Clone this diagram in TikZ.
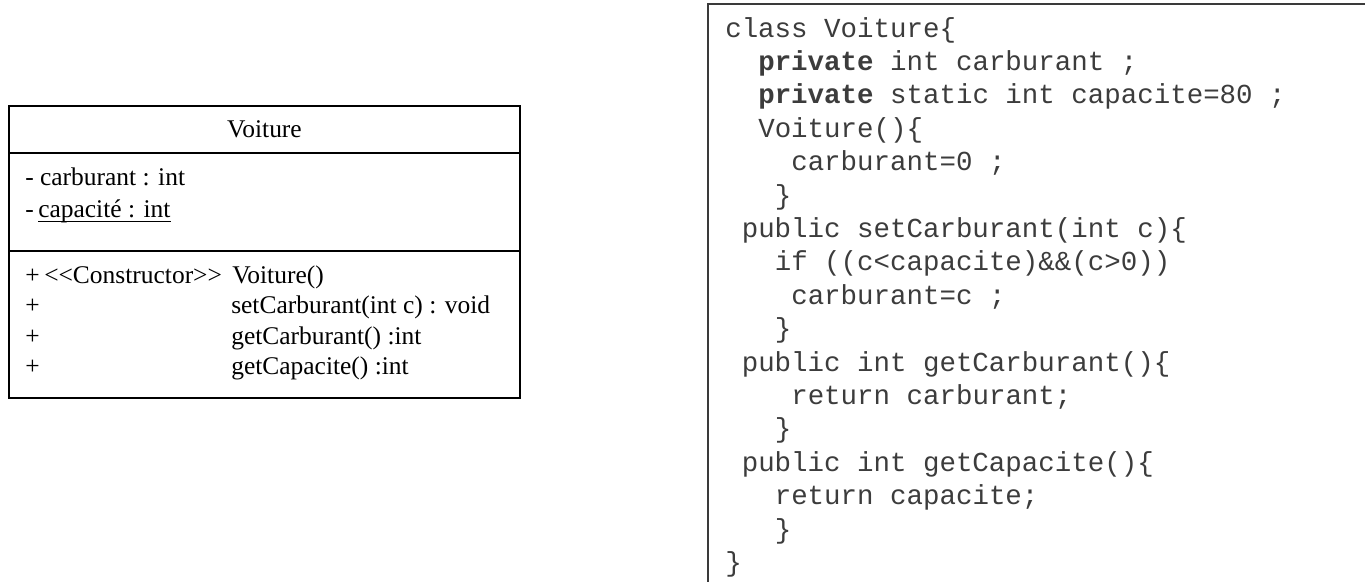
\documentclass[tikz,border=0pt]{standalone}
\usepackage{fontspec}
\setmainfont{Liberation Serif}
\newfontfamily\codefont{Liberation Mono}
\usetikzlibrary{calc}
\definecolor{codegray}{HTML}{3C3C3C}
\definecolor{framegray}{HTML}{3A3A3A}
\begin{document}
\begin{tikzpicture}[x=0.75pt,y=-0.75pt,
  umltext/.style={font=\fontsize{19.1pt}{22pt}\selectfont, inner sep=0pt, anchor=base west, text=black},
  codetext/.style={font=\codefont\fontsize{20.6pt}{24pt}\selectfont, inner sep=0pt, anchor=base west, text=codegray},
  umlline/.style={line width=1.5pt, draw=black},
  codeframe/.style={line width=1.5pt, draw=framegray}]
\useasboundingbox (0,0) rectangle (1365,582);
\fill[white] (0,0) rectangle (1365,582);

% ---------- UML class box ----------
\coordinate (ubtl) at (9,105.5);
\coordinate (ubbr) at (520,398);
\draw[umlline] (ubtl) rectangle (ubbr);
\draw[umlline] (9,153) -- (520,153);
\draw[umlline] (9,250.5) -- (520,250.5);

\node[umltext, anchor=base] (title) at (264.5,137) {Voiture};
\node[umltext] (a1) at (25,185) {- carburant : int};
\node[umltext] (a2a) at (25,217) {-};
\node[umltext] (a2b) at (38,217) {capacité : int};
\draw[line width=1.2pt] ($(a2b.base west)+(0,4.5)$) -- ($(a2b.base east)+(0,4.5)$);

\node[umltext] (p1) at (25,283) {+};
\node[umltext] (st) at (44,283) {<\kern0pt<Constructor>\kern0pt>};
\node[umltext] (m1) at (232,283) {Voiture()};
\node[umltext] (p2) at (25,313.5) {+};
\node[umltext] (m2) at (231,313.5) {setCarburant(int c) : void};
\node[umltext] (p3) at (25,344) {+};
\node[umltext] (m3) at (231,344) {getCarburant() :int};
\node[umltext] (p4) at (25,374.5) {+};
\node[umltext] (m4) at (231,374.5) {getCapacite() :int};

% ---------- Code box (cut by the picture edges) ----------
\coordinate (cbtr) at (1366,4);
\coordinate (cbtl) at (707.5,4);
\coordinate (cbbl) at (707.5,583);
\draw[codeframe] (cbtr) -- (cbtl) -- (cbbl);

\node[codetext] (c1)  at (725,37)     {class Voiture\{};
\node[codetext] (c2)  at (758,70.4)   {\textbf{private} int carburant ;};
\node[codetext] (c3)  at (758,103.8)  {\textbf{private} static int capacite=80 ;};
\node[codetext] (c4)  at (758,137.2)  {Voiture()\{};
\node[codetext] (c5)  at (791,170.6)  {carburant=0 ;};
\node[codetext] (c6)  at (774.5,204)  {\}};
\node[codetext] (c7)  at (741.5,237.4){public setCarburant(int c)\{};
\node[codetext] (c8)  at (774.5,270.8){if ((c<capacite)\&\&(c>0))};
\node[codetext] (c9)  at (791,304.2)  {carburant=c ;};
\node[codetext] (c10) at (774.5,337.6){\}};
\node[codetext] (c11) at (741.5,371)  {public int getCarburant()\{};
\node[codetext] (c12) at (791,404.4)  {return carburant;};
\node[codetext] (c13) at (774.5,437.8){\}};
\node[codetext] (c14) at (741.5,471.2){public int getCapacite()\{};
\node[codetext] (c15) at (774.5,504.6){return capacite;};
\node[codetext] (c16) at (774.5,538)  {\}};
\node[codetext] (c17) at (725,571.4)  {\}};
\end{tikzpicture}
\end{document}
